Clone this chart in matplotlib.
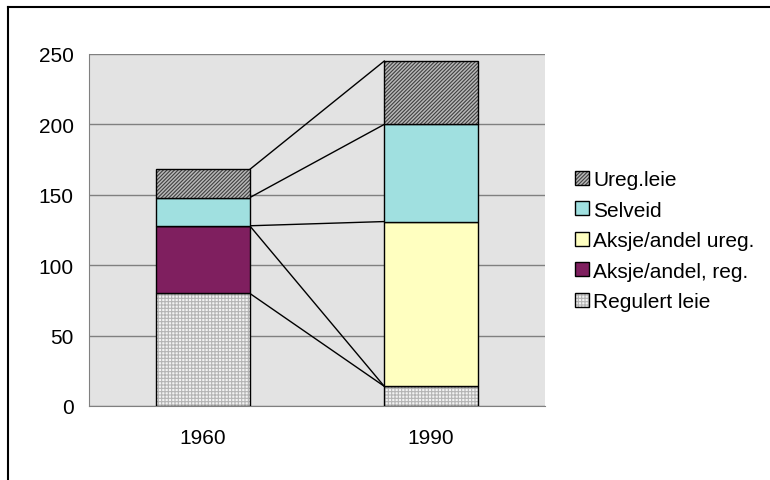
import matplotlib.pyplot as plt
from matplotlib.lines import Line2D
import numpy as np

plt.rcParams['font.family'] = ['Liberation Sans', 'DejaVu Sans']
plt.rcParams['hatch.linewidth'] = 0.8

# Data
years = ['1960', '1990']
series = ['Regulert leie', 'Aksje/andel, reg.', 'Aksje/andel ureg.', 'Selveid', 'Ureg.leie']
regulert = [80, 14]
aksje_reg = [48, 0]
aksje_ureg = [0, 117]
selveid = [20, 69]
ureg_leie = [20, 45]
values = [regulert, aksje_reg, aksje_ureg, selveid, ureg_leie]

# Styles per series
faces = ['#f2f2f2', '#7f1f5f', '#ffffc0', '#a0e0e0', '#b8b8b8']
hatches = ['+++++', None, None, None, '/////////']
hatch_colors = ['#b4b4b4', 'black', 'black', 'black', '#404040']

fig = plt.figure(figsize=(7.7, 4.81), dpi=100)
ax = fig.add_axes([89 / 770, 1 - 407 / 481, 456 / 770, 352 / 481])
ax.set_facecolor('#e3e3e3')

x = np.arange(len(years))
width = 0.41
bottom = np.zeros(len(years))
tops = []
handles = []
for vals, name, fc, h, hc in zip(values, series, faces, hatches, hatch_colors):
    bars = ax.bar(x, vals, width, bottom=bottom, color=fc, edgecolor='black',
                  linewidth=1.0, label=name, zorder=3)
    for b in bars:
        if h:
            b.set_hatch(h)
            b._hatch_color = plt.matplotlib.colors.to_rgba(hc)
    bottom = bottom + np.array(vals)
    tops.append(bottom.copy())
    handles.append(bars)

# Series lines between stacks
for t in tops:
    ax.plot([x[0] + width / 2, x[1] - width / 2], [t[0], t[1]],
            color='black', linewidth=1.0, zorder=2)

ax.set_xlim(-0.5, 1.5)
ax.set_ylim(0, 250)
ax.set_yticks(range(0, 251, 50))
ax.set_xticks(x)
ax.set_xticklabels(years)
ax.tick_params(axis='both', length=0, labelsize=15)
ax.tick_params(axis='y', pad=11)
ax.tick_params(axis='x', pad=16)
ax.yaxis.grid(True, color='#808080', linewidth=1.0, zorder=0)
ax.set_axisbelow(True)
for side in ['top', 'right']:
    ax.spines[side].set_visible(False)
for side in ['left', 'bottom']:
    ax.spines[side].set_color('#808080')

leg = ax.legend(handles[::-1], series[::-1], loc='center left',
                bbox_to_anchor=(1.048, 0.47), frameon=False, fontsize=15,
                handlelength=0.67, handleheight=0.67, handletextpad=0.2,
                labelspacing=0.55, borderaxespad=0)

# Outer frame (only top and left visible)
fig.add_artist(Line2D([8 / 770, 8 / 770], [0, 1 - 8 / 481], color='black',
                      linewidth=1.5, transform=fig.transFigure))
fig.add_artist(Line2D([8 / 770, 1], [1 - 8 / 481, 1 - 8 / 481], color='black',
                      linewidth=1.5, transform=fig.transFigure))

fig.savefig('out.png', dpi=100)
